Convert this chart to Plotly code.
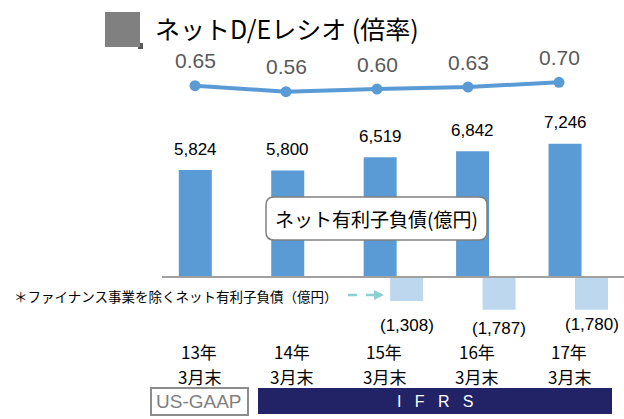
import plotly.graph_objects as go

# ---- data ----
periods = ["13年", "14年", "15年", "16年", "17年"]
period_sub = ["3月末", "3月末", "3月末", "3月末", "3月末"]
net_debt = [5824, 5800, 6519, 6842, 7246]              # ネット有利子負債(億円)
fin_idx = [2, 3, 4]                                     # 15年〜17年
fin_excl_debt = [-1308, -1787, -1780]                   # ファイナンス事業を除く
fin_labels = ["(1,308)", "(1,787)", "(1,780)"]
de_ratio = [0.65, 0.56, 0.60, 0.63, 0.70]               # ネットD/Eレシオ(倍率)

W, H = 624, 419
JP = "Noto Sans CJK JP"
NUM = "Liberation Sans, Noto Sans CJK JP"
BLUE = "#5b9bd5"
LIGHT = "#bdd7ee"
NAVY = "#222266"


def px(x):
    return x / W


def py(y):
    return 1 - y / H


xs = list(range(len(periods)))
fig = go.Figure()

fig.add_trace(go.Bar(
    x=xs, y=net_debt, width=0.357, offset=-0.1785,
    marker=dict(color=BLUE, line=dict(width=0)),
    xaxis="x", yaxis="y", hoverinfo="skip",
))
fig.add_trace(go.Bar(
    x=fin_idx, y=fin_excl_debt, width=0.357, offset=0.108,
    marker=dict(color=LIGHT, line=dict(width=0)),
    xaxis="x", yaxis="y", hoverinfo="skip",
))
fig.add_trace(go.Scatter(
    x=xs, y=de_ratio, mode="lines+markers",
    line=dict(color=BLUE, width=4),
    marker=dict(color=BLUE, size=11),
    xaxis="x2", yaxis="y2", hoverinfo="skip",
))

ann = []
# bar value labels
for i, v in enumerate(net_debt):
    ann.append(dict(x=i, y=v, xref="x", yref="y", text=f"{v:,}", showarrow=False,
                    yshift=21, xanchor="center", yanchor="middle",
                    font=dict(family=NUM, size=17, color="#000000")))
# negative bar labels
neg_shift = [-24, -19, -15]
for i, v, t, s in zip(fin_idx, fin_excl_debt, fin_labels, neg_shift):
    ann.append(dict(x=i + 0.287, y=v, xref="x", yref="y", text=t, showarrow=False,
                    yshift=s, xanchor="center", yanchor="middle",
                    font=dict(family=NUM, size=17, color="#000000")))
# ratio labels
for i, v in enumerate(de_ratio):
    ann.append(dict(x=i, y=v, xref="x2", yref="y2", text=f"{v:.2f}", showarrow=False,
                    yshift=25, xanchor="center", yanchor="middle",
                    font=dict(family=NUM, size=21, color="#595959")))
# category labels (two lines each)
for i, (a, b) in enumerate(zip(periods, period_sub)):
    for txt, ypix in ((a, 351.5), (b, 376.5)):
        ann.append(dict(x=i, y=py(ypix), xref="x", yref="paper", text=txt,
                        showarrow=False, xshift=4, xanchor="center", yanchor="middle",
                        font=dict(family=JP, size=17, color="#000000")))

# title
ann.append(dict(x=px(153), y=py(28), xref="paper", yref="paper", xanchor="left", yanchor="middle",
                text="ネットD/Eレシオ (倍率)", showarrow=False,
                font=dict(family=JP, size=25, color="#000000")))
# series callout
ann.append(dict(x=px(376.5), y=py(218), xref="paper", yref="paper", text="ネット有利子負債(億円)",
                showarrow=False, xanchor="center", yanchor="middle",
                font=dict(family=JP, size=19, color="#000000")))
# footnote
ann.append(dict(x=px(12), y=py(296), xref="paper", yref="paper", xanchor="left", yanchor="middle",
                text="＊ファイナンス事業を除くネット有利子負債（億円）", showarrow=False,
                font=dict(family=JP, size=13.5, color="#000000")))
# accounting standard boxes
ann.append(dict(x=px(199.5), y=py(401.5), xref="paper", yref="paper", text="US-GAAP",
                showarrow=False, xanchor="center", yanchor="middle",
                font=dict(family=NUM, size=19, color="#7f7f7f")))
ann.append(dict(x=px(435), y=py(401.5), xref="paper", yref="paper",
                text="I&nbsp;&nbsp;&nbsp;F&nbsp;&nbsp;&nbsp;R&nbsp;&nbsp;&nbsp;S",
                showarrow=False, xanchor="center", yanchor="middle",
                font=dict(family=NUM, size=16, color="#ffffff")))


def rounded_rect(x0, y0, x1, y1, r):
    pts = [
        f"M {px(x0 + r)},{py(y0)}",
        f"L {px(x1 - r)},{py(y0)}",
        f"Q {px(x1)},{py(y0)} {px(x1)},{py(y0 + r)}",
        f"L {px(x1)},{py(y1 - r)}",
        f"Q {px(x1)},{py(y1)} {px(x1 - r)},{py(y1)}",
        f"L {px(x0 + r)},{py(y1)}",
        f"Q {px(x0)},{py(y1)} {px(x0)},{py(y1 - r)}",
        f"L {px(x0)},{py(y0 + r)}",
        f"Q {px(x0)},{py(y0)} {px(x0 + r)},{py(y0)}",
        "Z",
    ]
    return " ".join(pts)


shapes = [
    # baseline
    dict(type="line", xref="paper", yref="y", x0=px(162), x1=1, y0=0, y1=0,
         line=dict(color="#a0a0a0", width=2), layer="above"),
    # title marker
    dict(type="rect", xref="paper", yref="paper", x0=px(138), x1=px(143), y0=py(49), y1=py(43),
         fillcolor="#595959", line=dict(width=0)),
    dict(type="rect", xref="paper", yref="paper", x0=px(105), x1=px(140), y0=py(47), y1=py(12),
         fillcolor="#808080", line=dict(width=0)),
    # callout box
    dict(type="path", xref="paper", yref="paper", path=rounded_rect(266, 197, 487, 240, 8),
         fillcolor="#ffffff", line=dict(color="#808080", width=1.5), layer="above"),
    # dashed arrow
    dict(type="line", xref="paper", yref="paper", x0=px(348), x1=px(376), y0=py(295), y1=py(295),
         line=dict(color="#8ccfd1", width=2.5, dash="dash")),
    dict(type="path", xref="paper", yref="paper",
         path=f"M {px(374)},{py(290)} L {px(384)},{py(295)} L {px(374)},{py(300)} Z",
         fillcolor="#8ccfd1", line=dict(width=0)),
    # US-GAAP box
    dict(type="rect", xref="paper", yref="paper", x0=px(151), x1=px(248), y0=py(415), y1=py(388),
         fillcolor="#ffffff", line=dict(color="#8c8c8c", width=2)),
    # IFRS box
    dict(type="rect", xref="paper", yref="paper", x0=px(258), x1=px(612), y0=py(414), y1=py(388),
         fillcolor=NAVY, line=dict(width=0)),
]

unit = 92.43
x_left = -195.3 / unit
x_right = (W - 195.3) / unit
pix_per_val = 107 / 5824
y_top = 277 / pix_per_val
y_bot = -(H - 277) / pix_per_val

u2 = 91.0
y2_scale = 67.1

fig.update_layout(
    width=W, height=H, margin=dict(l=0, r=0, t=0, b=0),
    paper_bgcolor="#ffffff", plot_bgcolor="#ffffff",
    barmode="overlay", showlegend=False,
    xaxis=dict(domain=[0, 1], range=[x_left, x_right], visible=False, fixedrange=True),
    yaxis=dict(domain=[0, 1], range=[y_bot, y_top], visible=False, fixedrange=True),
    xaxis2=dict(domain=[0, 1], range=[-195 / u2, (W - 195) / u2], overlaying="x",
                visible=False, fixedrange=True),
    yaxis2=dict(domain=[0, 1], range=[0.56 - (H - 91.7) / y2_scale, 0.56 + 91.7 / y2_scale],
                overlaying="y", visible=False, fixedrange=True),
    annotations=ann, shapes=shapes,
)

fig.write_html("out.html")
